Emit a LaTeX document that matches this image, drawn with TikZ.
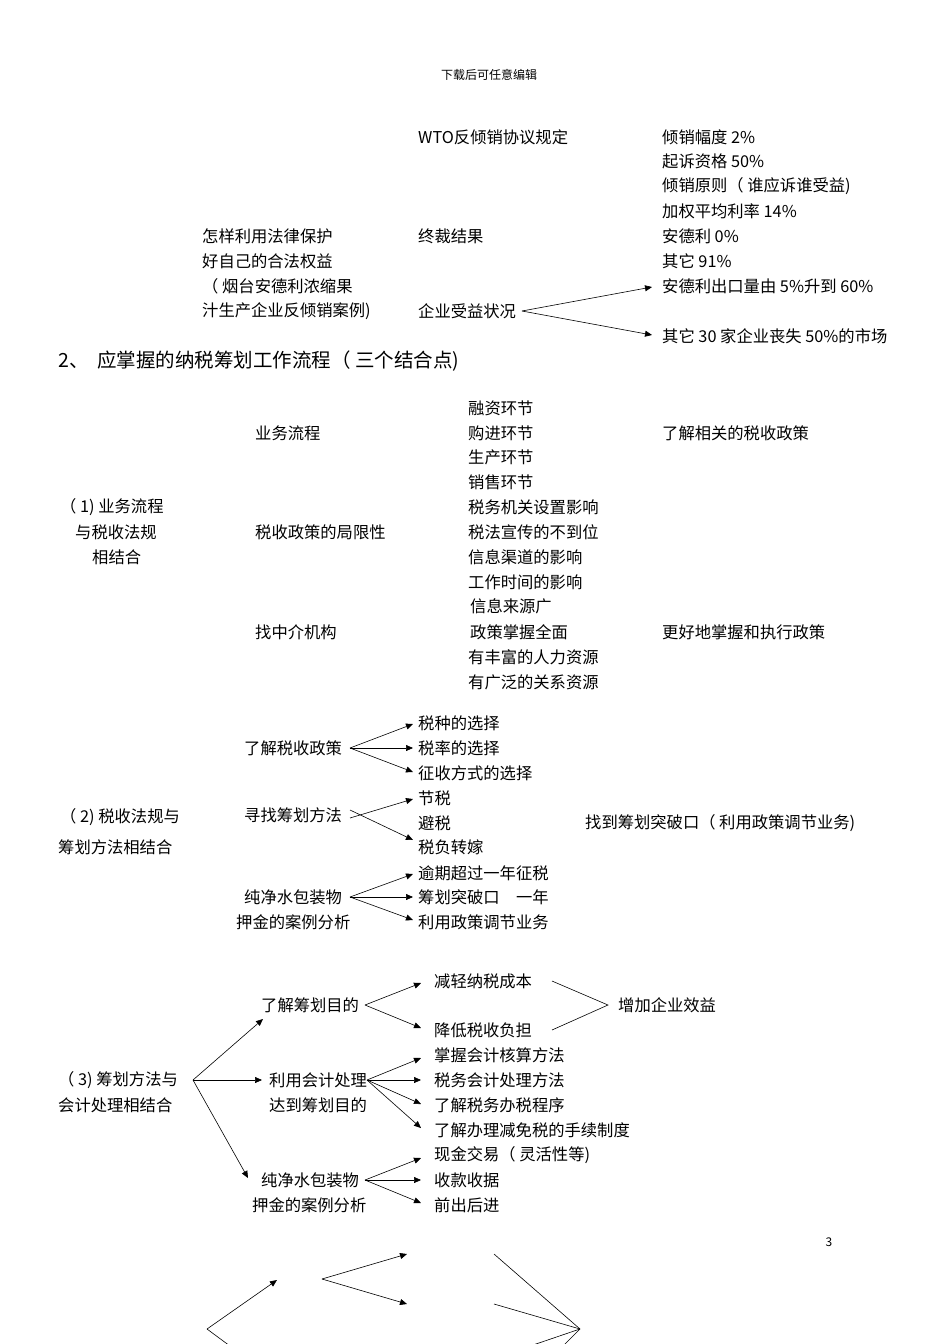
\documentclass[tikz,border=0pt]{standalone}
\usepackage{fontspec}
\setmainfont{Noto Sans CJK SC}
\usetikzlibrary{arrows.meta}
\begin{document}
\begin{tikzpicture}[x=1pt,y=-1pt,
  t/.style={anchor=west,inner sep=0pt,font=\fontsize{16.3}{18}\selectfont},
  ar/.style={-{Triangle[length=7pt,width=6pt]},line width=0.6pt},
  ln/.style={line width=0.6pt}]
\useasboundingbox (0,0) rectangle (950,1344);
\node[inner sep=0pt,font=\fontsize{12}{14}\selectfont] (hd) at (489,75) {下载后可任意编辑};
% top section
\node[t] (a1) at (418,137) {WTO反倾销协议规定};
\node[t] (r1) at (662,137) {倾销幅度 2\%};
\node[t] (r2) at (662,161) {起诉资格 50\%};
\node[t] (r3) at (662,186) {倾销原则（ 谁应诉谁受益)};
\node[t] (r4) at (662,211) {加权平均利率 14\%};
\node[t] (r5) at (662,236) {安德利 0\%};
\node[t] (r6) at (662,261) {其它 91\%};
\node[t] (r7) at (662,286) {安德利出口量由 5\%升到 60\%};
\node[t] (r8) at (662,336) {其它 30 家企业丧失 50\%的市场};
\node[t] (l1) at (202,236) {怎样利用法律保护};
\node[t] (l2) at (202,261) {好自己的合法权益};
\node[t] (l3) at (202,286) {（ 烟台安德利浓缩果};
\node[t] (l4) at (202,311) {汁生产企业反倾销案例)};
\node[t] (m1) at (418,236) {终裁结果};
\node[t] (m2) at (418,311) {企业受益状况};
\coordinate (o1) at (522,311);
\draw[ar] (o1) -- (652,287);
\draw[ar] (o1) -- (652,335);
\node[anchor=west,inner sep=0pt,font=\fontsize{19.5}{22}\selectfont] (h2) at (58,361) {2、\ \ 应掌握的纳税筹划工作流程（ 三个结合点)};
% section 1
\node[t] (s1a) at (60,507) {（ 1) 业务流程};
\node[t] (s1b) at (75,532) {与税收法规};
\node[t] (s1c) at (92,557) {相结合};
\node[t] (b1) at (255,433) {业务流程};
\node[t] (b2) at (255,532) {税收政策的局限性};
\node[t] (b3) at (255,632) {找中介机构};
\node[t] (c1) at (468,408) {融资环节};
\node[t] (c2) at (468,433) {购进环节};
\node[t] (c3) at (468,457) {生产环节};
\node[t] (c4) at (468,482) {销售环节};
\node[t] (c5) at (468,507) {税务机关设置影响};
\node[t] (c6) at (468,532) {税法宣传的不到位};
\node[t] (c7) at (468,557) {信息渠道的影响};
\node[t] (c8) at (468,582) {工作时间的影响};
\node[t] (c9) at (470,606) {信息来源广};
\node[t] (c10) at (470,632) {政策掌握全面};
\node[t] (c11) at (468,657) {有丰富的人力资源};
\node[t] (c12) at (468,682) {有广泛的关系资源};
\node[t] (d1) at (662,433) {了解相关的税收政策};
\node[t] (d2) at (662,632) {更好地掌握和执行政策};
% section 2
\node[t] (s2a) at (60,817) {（ 2) 税收法规与};
\node[t] (s2b) at (58,847) {筹划方法相结合};
\node[t] (e1) at (244,748) {了解税收政策};
\node[t] (e2) at (244,815) {寻找筹划方法};
\node[t] (e3) at (244,897) {纯净水包装物};
\node[t] (e4) at (236,922) {押金的案例分析};
\node[t] (f1) at (418,723) {税种的选择};
\node[t] (f2) at (418,748) {税率的选择};
\node[t] (f3) at (418,773) {征收方式的选择};
\node[t] (f4) at (418,798) {节税};
\node[t] (f5) at (418,823) {避税};
\node[t] (f6) at (418,847) {税负转嫁};
\node[t] (f7) at (418,873) {逾期超过一年征税};
\node[t] (f8) at (418,897) {筹划突破口\quad 一年};
\node[t] (f9) at (418,922) {利用政策调节业务};
\node[t] (g1) at (585,823) {找到筹划突破口（ 利用政策调节业务)};
\coordinate (o2) at (350,748);
\draw[ar] (o2) -- (413,724);
\draw[ar] (o2) -- (413,748);
\draw[ar] (o2) -- (413,772);
\draw[ar] (350,818) -- (413,799);
\draw[ar] (350,810) -- (413,840);
\coordinate (o3) at (350,897);
\draw[ar] (o3) -- (413,874);
\draw[ar] (o3) -- (413,897);
\draw[ar] (o3) -- (413,920);
% section 3
\node[t] (s3a) at (58,1080) {（ 3) 筹划方法与};
\node[t] (s3b) at (58,1105) {会计处理相结合};
\coordinate (o4) at (193,1080);
\node[t] (h1) at (261,1005) {了解筹划目的};
\node[t] (h2b) at (269,1080) {利用会计处理};
\node[t] (h3) at (269,1105) {达到筹划目的};
\node[t] (h4) at (261,1180) {纯净水包装物};
\node[t] (h5) at (252,1205) {押金的案例分析};
\draw[ar] (o4) -- (263,1019);
\draw[ar] (o4) -- (262,1080);
\draw[ar] (o4) -- (248,1178);
\node[t] (i1) at (434,981) {减轻纳税成本};
\node[t] (i2) at (434,1030) {降低税收负担};
\node[t] (i3) at (618,1005) {增加企业效益};
\coordinate (o5) at (365,1005);
\draw[ar] (o5) -- (421,983);
\draw[ar] (o5) -- (421,1028);
\coordinate (p5) at (608,1005);
\draw[ln] (552,981) -- (p5) -- (552,1030);
\node[t] (j1) at (434,1055) {掌握会计核算方法};
\node[t] (j2) at (434,1080) {税务会计处理方法};
\node[t] (j3) at (434,1105) {了解税务办税程序};
\node[t] (j4) at (434,1130) {了解办理减免税的手续制度};
\coordinate (o6) at (367,1080);
\draw[ar] (o6) -- (421,1058);
\draw[ar] (o6) -- (421,1080);
\draw[ar] (o6) -- (421,1104);
\draw[ar] (o6) -- (421,1128);
\node[t] (k1) at (434,1155) {现金交易（ 灵活性等)};
\node[t] (k2) at (434,1180) {收款收据};
\node[t] (k3) at (434,1205) {前出后进};
\coordinate (o7) at (365,1180);
\draw[ar] (o7) -- (421,1158);
\draw[ar] (o7) -- (421,1180);
\draw[ar] (o7) -- (421,1203);
\node[inner sep=0pt,font=\fontsize{12}{14}\selectfont] (pg) at (829,1242) {3};
% bottom fragments
\coordinate (q1) at (322,1279);
\draw[ar] (q1) -- (407,1254);
\draw[ar] (q1) -- (407,1304);
\coordinate (q2) at (207,1329);
\draw[ar] (q2) -- (277,1280);
\draw[ln] (q2) -- (230,1346);
\coordinate (q3) at (580,1329);
\draw[ln] (494,1254) -- (q3);
\draw[ln] (494,1304) -- (q3);
\draw[ln] (q3) -- (530,1346);
\draw[ln] (q3) -- (563,1346);
\end{tikzpicture}
\end{document}
